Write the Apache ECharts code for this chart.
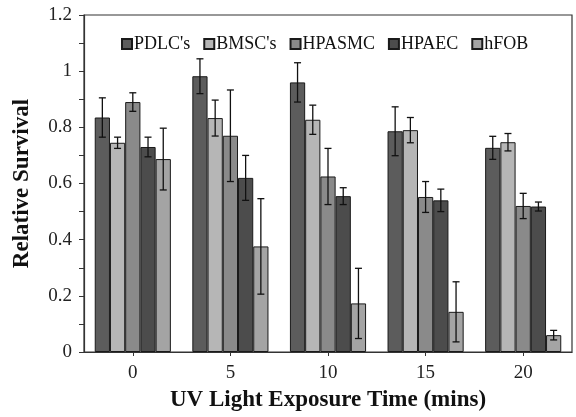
<!DOCTYPE html>
<html>
<head>
<meta charset="utf-8">
<script src="https://cdn.jsdelivr.net/npm/echarts@6/dist/echarts.min.js"></script>
<style>
  html, body { margin: 0; padding: 0; background: #fff; }
  #main { width: 576px; height: 417px; }
</style>
</head>
<body>
<div id="main"></div>
<script>
var categories = ['0', '5', '10', '15', '20'];
var seriesNames = ["PDLC's", "BMSC's", 'HPASMC', 'HPAEC', 'hFOB'];
var seriesColors = ['#5c5c5c', '#b6b6b6', '#8a8a8a', '#4c4c4c', '#a4a4a4'];

// mean values per series (one entry per exposure time)
var pdlc   = [0.835, 0.982, 0.96, 0.786, 0.727];
var bmsc   = [0.745, 0.833, 0.827, 0.79, 0.747];
var hpasmc = [0.89, 0.77, 0.625, 0.552, 0.52];
var hpaec  = [0.73, 0.62, 0.555, 0.54, 0.518];
var hfob   = [0.687, 0.376, 0.173, 0.143, 0.06];

// error (+/-) per series
var pdlcErr   = [0.07, 0.062, 0.07, 0.087, 0.041];
var bmscErr   = [0.02, 0.064, 0.052, 0.045, 0.031];
var hpasmcErr = [0.033, 0.163, 0.1, 0.055, 0.045];
var hpaecErr  = [0.035, 0.08, 0.03, 0.04, 0.016];
var hfobErr   = [0.11, 0.17, 0.125, 0.107, 0.017];

var yTicks = [0, 0.2, 0.4, 0.6, 0.8, 1, 1.2];

var means = [pdlc, bmsc, hpasmc, hpaec, hfob];
var errs = [pdlcErr, bmscErr, hpasmcErr, hpaecErr, hfobErr];

var catGap = 0.22;
var font = '"Liberation Serif", "DejaVu Serif", serif';

var myChart = echarts.init(document.getElementById('main'));

var series = [];
// bars
for (var i = 0; i < means.length; i++) {
    series.push({
        name: seriesNames[i],
        type: 'bar',
        data: means[i],
        barGap: '0%',
        barCategoryGap: (catGap * 100) + '%',
        itemStyle: {
            color: seriesColors[i],
            borderColor: '#1a1a1a',
            borderWidth: 1
        }
    });
}
// error bars
for (var i = 0; i < means.length; i++) {
    (function (idx) {
        var d = [];
        for (var k = 0; k < categories.length; k++) {
            d.push([k, means[idx][k] - errs[idx][k], means[idx][k] + errs[idx][k]]);
        }
        series.push({
            type: 'custom',
            data: d,
            z: 10,
            silent: true,
            renderItem: function (params, api) {
                var c = api.value(0);
                var lo = api.coord([c, api.value(1)]);
                var hi = api.coord([c, api.value(2)]);
                var band = api.size([1, 0])[0];
                var bw = band * (1 - catGap) / means.length;
                var x = lo[0] + (idx - (means.length - 1) / 2) * bw;
                var cap = 3.5;
                var st = { stroke: '#111', lineWidth: 1.3 };
                return {
                    type: 'group',
                    children: [
                        { type: 'line', shape: { x1: x, y1: lo[1], x2: x, y2: hi[1] }, style: st },
                        { type: 'line', shape: { x1: x - cap, y1: lo[1], x2: x + cap, y2: lo[1] }, style: st },
                        { type: 'line', shape: { x1: x - cap, y1: hi[1], x2: x + cap, y2: hi[1] }, style: st }
                    ]
                };
            }
        });
    })(i);
}

var option = {
    animation: false,
    backgroundColor: '#fff',
    textStyle: { fontFamily: font },
    grid: {
        left: 84, right: 4, top: 15, bottom: 62,
        show: true,
        borderColor: '#333',
        borderWidth: 1.2
    },
    legend: {
        data: seriesNames,
        top: 30,
        left: 116,
        itemGap: 13,
        itemWidth: 10,
        itemHeight: 10,
        icon: 'rect',
        textStyle: { fontFamily: font, fontSize: 18, color: '#111', padding: [0, 0, 0, -3] }
    },
    xAxis: {
        type: 'category',
        data: categories,
        name: 'UV Light Exposure Time (mins)',
        nameLocation: 'middle',
        nameGap: 37,
        nameTextStyle: { fontFamily: font, fontSize: 23, fontWeight: 'bold', color: '#111' },
        axisLine: { lineStyle: { color: '#333', width: 1.2 } },
        axisTick: { show: true, alignWithLabel: true, length: 4, lineStyle: { color: '#333' } },
        axisLabel: { fontFamily: font, fontSize: 19, color: '#222', margin: 12 }
    },
    yAxis: {
        type: 'value',
        min: yTicks[0],
        max: yTicks[yTicks.length - 1],
        interval: 0.2,
        name: 'Relative Survival',
        nameLocation: 'middle',
        nameGap: 50,
        nameTextStyle: { fontFamily: font, fontSize: 23, fontWeight: 'bold', color: '#111' },
        axisLine: { show: true, lineStyle: { color: '#333', width: 1.2 } },
        axisTick: { show: true, length: 5, lineStyle: { color: '#333' } },
        minorTick: { show: true, splitNumber: 2, length: 5, lineStyle: { color: '#333' } },
        splitLine: { show: false },
        axisLabel: { fontFamily: font, fontSize: 19, color: '#222', margin: 12 }
    },
    series: series
};

myChart.setOption(option);
</script>
</body>
</html>
